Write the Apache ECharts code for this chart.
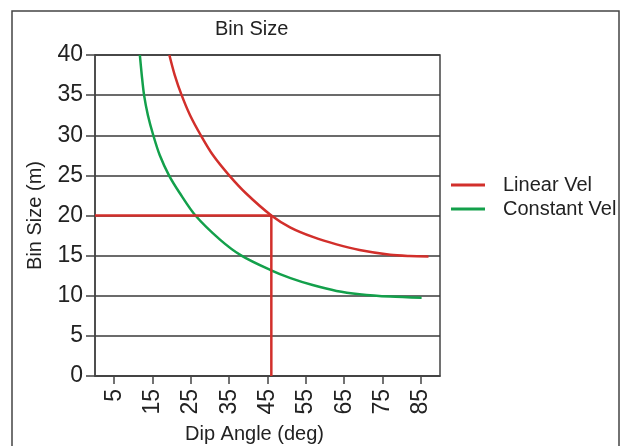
<!DOCTYPE html>
<html>
<head>
<meta charset="utf-8">
<script src="https://cdn.jsdelivr.net/npm/echarts@6/dist/echarts.min.js"></script>
<style>
  html, body { margin: 0; padding: 0; background: #fff; }
  #chart { width: 620px; height: 446px; }
</style>
</head>
<body>
<div id="chart"></div>
<script>
// Bin size versus dip angle for two velocity models
const dipTicks = [5, 15, 25, 35, 45, 55, 65, 75, 85];

const linearVelAngle = [19.4, 20.8, 22.6, 24.8, 27.6, 30.8, 35.0, 39.3, 46.0, 51.0, 57.0, 63.0, 69.0, 77.0, 82.0, 87.0];
const linearVelSize  = [40.0, 37.5, 35.0, 32.5, 30.0, 27.5, 25.0, 22.8, 20.0, 18.5, 17.3, 16.4, 15.7, 15.1, 14.95, 14.9];

const constVelAngle = [11.7, 12.2, 12.8, 13.8, 15.2, 16.9, 19.3, 22.1, 26.2, 32.6, 38.2, 45.8, 51.0, 57.0, 63.0, 69.0, 77.0, 85.2];
const constVelSize  = [40.0, 37.5, 35.0, 32.5, 30.0, 27.5, 25.0, 22.8, 20.0, 17.0, 15.0, 13.2, 12.2, 11.3, 10.6, 10.2, 9.9, 9.75];

// Reference reading: 20 m bin size at a 46 degree dip
const guideAngle = [0, 46, 46];
const guideSize  = [20, 20, 0];

const RED = '#d22f2b';
const GREEN = '#13a04b';
const FONT = 'Liberation Sans, Arial, Helvetica, sans-serif';

const pairs = (xs, ys) => xs.map((x, i) => [x, ys[i]]);

const chart = echarts.init(document.getElementById('chart'), null, { renderer: 'canvas' });

chart.setOption({
  animation: false,
  backgroundColor: '#fff',
  textStyle: { fontFamily: FONT, color: '#222' },
  title: {
    text: 'Bin Size',
    left: 215,
    top: 19,
    padding: 0,
    textStyle: { fontFamily: FONT, fontSize: 20, fontWeight: 'normal', color: '#222' }
  },
  legend: {
    orient: 'vertical',
    left: 451,
    top: 175,
    icon: 'rect',
    itemWidth: 34,
    itemHeight: 3,
    itemGap: 4,
    padding: 0,
    data: ['Linear Vel', 'Constant Vel'],
    textStyle: { fontFamily: FONT, fontSize: 20, color: '#222', padding: [0, 0, 0, 13] }
  },
  graphic: [{
    type: 'rect',
    shape: { x: 12, y: 11, width: 607, height: 460 },
    style: { fill: 'none', stroke: '#444', lineWidth: 1.5 },
    silent: true
  }],
  grid: {
    left: 95, right: 180, top: 55, bottom: 70,
    containLabel: false,
    outerBoundsMode: 'none',
    show: true,
    borderColor: '#444',
    borderWidth: 1.5
  },
  xAxis: {
    type: 'value',
    min: 0, max: 90,
    name: 'Dip Angle (deg)',
    nameLocation: 'middle',
    nameGap: 48,
    nameTextStyle: { fontFamily: FONT, fontSize: 20, color: '#222', padding: [0, 26, 0, 0] },
    axisLine: { show: true, lineStyle: { color: '#444', width: 1.5 } },
    axisTick: { show: true, customValues: dipTicks, length: 8, lineStyle: { color: '#444', width: 1.5 } },
    axisLabel: { customValues: dipTicks, rotate: 90, margin: 13, fontSize: 23, color: '#222', fontFamily: FONT, padding: [8, 0, 0, 0] },
    splitLine: { show: false }
  },
  yAxis: {
    type: 'value',
    min: 0, max: 40, interval: 5,
    name: 'Bin Size (m)',
    nameLocation: 'middle',
    nameGap: 50,
    nameTextStyle: { fontFamily: FONT, fontSize: 20, color: '#222' },
    axisLine: { show: true, lineStyle: { color: '#444', width: 1.5 } },
    axisTick: { show: true, length: 9, lineStyle: { color: '#444', width: 1.5 } },
    axisLabel: { margin: 12, fontSize: 23, color: '#222', fontFamily: FONT },
    splitLine: { show: true, lineStyle: { color: '#3a3a3a', width: 1.5 } }
  },
  series: [
    {
      name: 'Linear Vel',
      type: 'line',
      smooth: 0.3,
      symbol: 'none',
      color: RED,
      lineStyle: { color: RED, width: 2.5 },
      data: pairs(linearVelAngle, linearVelSize),
      z: 3
    },
    {
      name: 'Constant Vel',
      type: 'line',
      smooth: 0.3,
      symbol: 'none',
      color: GREEN,
      lineStyle: { color: GREEN, width: 2.5 },
      data: pairs(constVelAngle, constVelSize),
      z: 3
    },
    {
      name: 'guide',
      type: 'line',
      symbol: 'none',
      color: RED,
      lineStyle: { color: RED, width: 2.5 },
      data: pairs(guideAngle, guideSize),
      z: 4
    }
  ]
});
</script>
</body>
</html>
